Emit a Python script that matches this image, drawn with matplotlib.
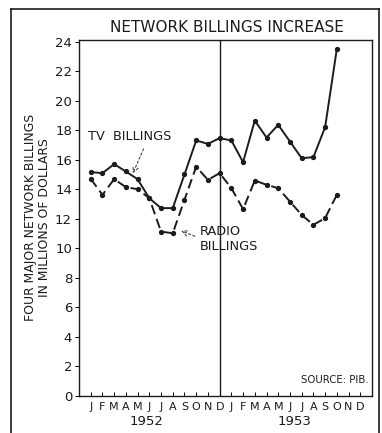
import matplotlib.pyplot as plt
from matplotlib.lines import Line2D

# ==============================
# DATA (millions of dollars, Jan 1952 .. Oct 1953)
# ==============================

month_letters = ["J", "F", "M", "A", "M", "J", "J", "A", "S", "O", "N", "D"]
years = ["1952", "1953"]

tv_billings = [15.16, 15.09, 15.70, 15.20, 14.68, 13.39, 12.72, 12.72, 15.0, 17.30, 17.07, 17.46,
               17.30, 15.83, 18.65, 17.5, 18.36, 17.23, 16.1, 16.17, 18.2, 23.5]
radio_billings = [14.70, 13.62, 14.68, 14.14, 14.0, 13.39, 11.13, 11.02, 13.28, 15.53, 14.63, 15.09,
                  14.07, 12.65, 14.59, 14.30, 14.07, 13.16, 12.26, 11.59, 12.04, 13.62]

y_ticks = list(range(0, 25, 2))


# ==============================
# PLOT
# ==============================

def main():
    plt.rcParams["font.family"] = ["DejaVu Sans"]
    ink = "#1c1c1c"

    fig = plt.figure(figsize=(3.82, 4.33), dpi=100)
    ax = fig.add_axes([0.2068, 0.0855, 0.767, 0.822])

    months = list(range(len(tv_billings)))

    ax.plot(months, tv_billings, color=ink, linewidth=1.4,
            marker="o", markersize=2.8)
    ax.plot(months, radio_billings, color=ink, linewidth=1.4,
            linestyle=(0, (5, 2.5)), marker="o", markersize=2.8)

    # year divider
    ax.axvline(11, color=ink, linewidth=1.0)

    ax.set_xlim(-1, 24)
    ax.set_ylim(0, 24.1)

    ax.set_yticks(y_ticks)
    ax.set_yticklabels([str(v) for v in y_ticks], fontsize=9.5, color=ink)
    ax.tick_params(axis="y", direction="out", length=3, width=0.7, pad=2)

    ax.set_xticks(range(24))
    ax.set_xticklabels(month_letters * 2, fontsize=8, color=ink)
    ax.tick_params(axis="x", direction="in", length=3, width=0.7, pad=4)

    for spine in ax.spines.values():
        spine.set_linewidth(1.0)
        spine.set_color(ink)

    # year labels under the month letters
    ax.text(4.8, -1.75, years[0], fontsize=9.5, ha="center", va="center", color=ink)
    ax.text(17.4, -1.75, years[1], fontsize=9.5, ha="center", va="center", color=ink)

    fig.text(0.595, 0.936, "NETWORK BILLINGS INCREASE", fontsize=11,
             ha="center", va="center", color=ink)

    fig.text(0.081, 0.497, "FOUR MAJOR NETWORK BILLINGS", fontsize=8.9,
             rotation=90, ha="center", va="center", color=ink)
    fig.text(0.117, 0.497, "IN MILLIONS OF DOLLARS", fontsize=8.9,
             rotation=90, ha="center", va="center", color=ink)

    ax.text(23.7, 1.05, "SOURCE: PIB.", fontsize=7.3, ha="right", va="center",
            color=ink)

    # callouts
    ax.text(-0.2, 17.6, "TV  BILLINGS", fontsize=9.3, ha="left", va="center",
            color=ink)
    ax.annotate("", xy=(3.5, 14.9), xytext=(4.6, 16.9),
                arrowprops=dict(arrowstyle="->", linestyle=(0, (2, 2)),
                                color="#444444", linewidth=0.8))
    ax.text(9.3, 10.64, "RADIO\nBILLINGS", fontsize=9.3, ha="left", va="center",
            color=ink, linespacing=1.2)
    ax.annotate("", xy=(7.5, 11.25), xytext=(9.1, 10.75),
                arrowprops=dict(arrowstyle="->", linestyle=(0, (2, 2)),
                                color="#444444", linewidth=0.8))

    # outer frame
    frame_kw = dict(color=ink, linewidth=1.2, transform=fig.transFigure)
    left, right, top = 11 / 382, 379 / 382, 1 - 9 / 433
    fig.add_artist(Line2D([left, left], [-0.01, top], **frame_kw))
    fig.add_artist(Line2D([left, right], [top, top], **frame_kw))
    fig.add_artist(Line2D([right, right], [-0.01, top], **frame_kw))

    fig.savefig("out.png", dpi=100, facecolor="white")


if __name__ == "__main__":
    main()
